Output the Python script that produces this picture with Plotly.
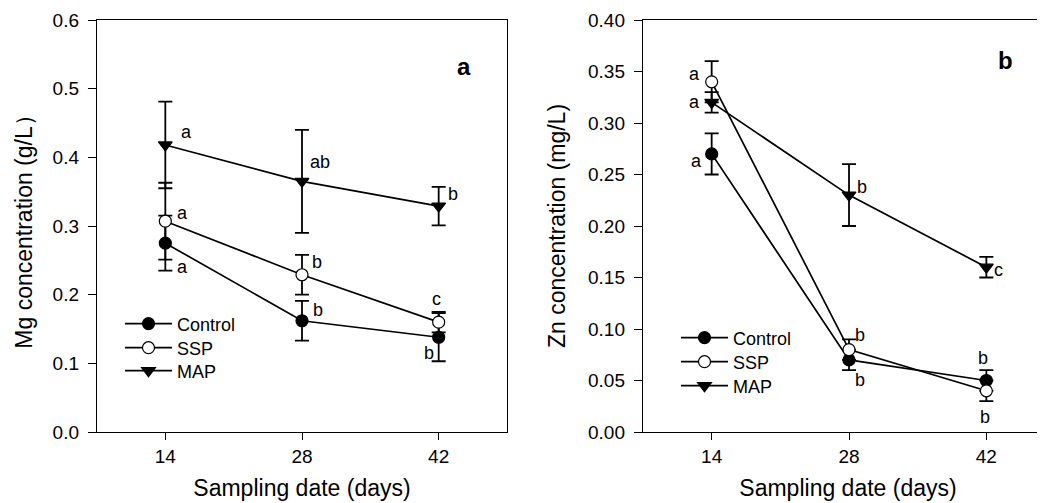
import plotly.graph_objects as go

days = [14, 28, 42]

# Panel a: Mg concentration (g/L)
mg_control = [0.275, 0.162, 0.138]
mg_control_err = [0.040, 0.029, 0.035]
mg_ssp = [0.307, 0.229, 0.160]
mg_ssp_err = [0.056, 0.029, 0.015]
mg_map = [0.418, 0.365, 0.329]
mg_map_err = [0.063, 0.075, 0.028]

# Panel b: Zn concentration (mg/L)
zn_control = [0.27, 0.07, 0.05]
zn_control_err = [0.02, 0.01, 0.01]
zn_ssp = [0.34, 0.08, 0.04]
zn_ssp_err = [0.02, 0.01, 0.01]
zn_map = [0.32, 0.23, 0.16]
zn_map_err = [0.01, 0.03, 0.01]

series_names = ["Control", "SSP", "MAP"]

# significance letters
mg_letters_x = [16.2, 15.74, 15.74, 29.8, 29.5, 29.6, 43.45, 41.8, 41.0]
mg_letters_y = [0.437, 0.3185, 0.2407, 0.3927, 0.248, 0.1777, 0.3466, 0.194, 0.1153]
mg_letters = ["a", "a", "a", "ab", "b", "b", "b", "c", "b"]

zn_letters_x = [12.27, 12.27, 12.47, 29.29, 29.12, 29.12, 43.19, 41.69, 41.86]
zn_letters_y = [0.3474, 0.320, 0.2633, 0.2382, 0.0942, 0.0505, 0.157, 0.0715, 0.0149]
zn_letters = ["a", "a", "a", "b", "b", "b", "c", "b", "b"]

FONT = "Arial, Liberation Sans, Arimo, sans-serif"
BLACK = "#000000"

styles = {
    "Control": dict(symbol="circle", color=BLACK, line=dict(color=BLACK, width=1.2), size=12),
    "SSP": dict(symbol="circle", color="white", line=dict(color=BLACK, width=1.2), size=12),
    "MAP": dict(symbol="triangle-down", color=BLACK, line=dict(color=BLACK, width=1.2), size=12),
}

W, H = 1045, 503
OFF = 8   # page body offset compensation (vertical / panel b)
OFFA = 6  # horizontal compensation for panel a

fig = go.Figure()

legend_ids_a = ["legend", "legend2", "legend3"]
legend_ids_b = ["legend4", "legend5", "legend6"]
legend_rows_a = [324, 348, 371]
legend_rows_b = [338, 362, 386]

def add_panel(vals, errs, xa, ya, legends):
    for name, v, e, lg in zip(series_names, vals, errs, legends):
        fig.add_trace(go.Scatter(
            x=days, y=v, name=name, mode="lines+markers",
            line=dict(color=BLACK, width=1.7),
            marker=styles[name],
            error_y=dict(type="data", array=e, visible=True, color=BLACK,
                         thickness=1.8, width=7),
            xaxis=xa, yaxis=ya, legend=lg,
        ))

add_panel([mg_control, mg_ssp, mg_map], [mg_control_err, mg_ssp_err, mg_map_err],
          "x", "y", legend_ids_a)
add_panel([zn_control, zn_ssp, zn_map], [zn_control_err, zn_ssp_err, zn_map_err],
          "x2", "y2", legend_ids_b)

annotations = []
for x, y, t in zip(mg_letters_x, mg_letters_y, mg_letters):
    annotations.append(dict(x=x, y=y, xref="x", yref="y", text=t, showarrow=False,
                            font=dict(size=18, color=BLACK, family=FONT)))
for x, y, t in zip(zn_letters_x, zn_letters_y, zn_letters):
    annotations.append(dict(x=x, y=y, xref="x2", yref="y2", text=t, showarrow=False,
                            font=dict(size=18, color=BLACK, family=FONT)))
annotations.append(dict(x=44.6, y=0.532, xref="x", yref="y", text="<b>a</b>", showarrow=False,
                        font=dict(size=24, color=BLACK, family=FONT)))
annotations.append(dict(x=43.98, y=0.3604, xref="x2", yref="y2", text="<b>b</b>", showarrow=False,
                        font=dict(size=24, color=BLACK, family=FONT)))

ydom = [(H - (432 - OFF)) / H, (H - (20 - OFF)) / H]

xcommon = dict(tickmode="array", tickvals=days, ticktext=[str(d) for d in days],
               ticks="outside", ticklen=7, tickwidth=1.2, tickcolor=BLACK,
               showline=True, linecolor=BLACK, linewidth=1.4, showgrid=False,
               zeroline=False, tickfont=dict(size=19, color=BLACK, family=FONT),
               title=dict(text="Sampling date (days)", font=dict(size=23, color=BLACK, family=FONT),
                          standoff=13))
ycommon = dict(ticks="outside", ticklen=8, tickwidth=1.2, tickcolor=BLACK,
               showline=True, linecolor=BLACK, linewidth=1.4, showgrid=False,
               zeroline=False, ticklabelstandoff=5,
               tickfont=dict(size=19, color=BLACK, family=FONT))

legend_layout = {}
for lid, row in zip(legend_ids_a, legend_rows_a):
    legend_layout[lid] = dict(x=(118 - OFFA) / W, y=(H - (row - OFF)) / H,
                              xanchor="left", yanchor="middle",
                              bgcolor="rgba(0,0,0,0)", borderwidth=0, itemwidth=47,
                              font=dict(size=18, color=BLACK, family=FONT))
for lid, row in zip(legend_ids_b, legend_rows_b):
    legend_layout[lid] = dict(x=(676 - OFF) / W, y=(H - (row - OFF)) / H,
                              xanchor="left", yanchor="middle",
                              bgcolor="rgba(0,0,0,0)", borderwidth=0, itemwidth=47,
                              font=dict(size=18, color=BLACK, family=FONT))

fig.update_layout(
    width=W, height=H,
    margin=dict(l=0, r=0, t=0, b=0, autoexpand=False),
    paper_bgcolor="white", plot_bgcolor="white",
    font=dict(family=FONT, color=BLACK),
    xaxis=dict(xcommon, domain=[(95 - OFFA) / W, (505 - OFFA) / W], range=[7, 49],
               mirror=True, anchor="y"),
    yaxis=dict(ycommon, domain=ydom, range=[0, 0.6], dtick=0.1, tickformat=".1f",
               mirror=True, anchor="x",
               title=dict(text="Mg concentration (g/L）", font=dict(size=23, color=BLACK, family=FONT),
                          standoff=13)),
    xaxis2=dict(xcommon, domain=[(643 - OFF) / W, 1.0], range=[7, 7 + (W + OFF - 643) / 9.81],
                mirror=True, anchor="y2"),
    yaxis2=dict(ycommon, domain=ydom, range=[0, 0.40], dtick=0.05, tickformat=".2f",
                mirror=False, anchor="x2",
                title=dict(text="Zn concentration (mg/L)", font=dict(size=23, color=BLACK, family=FONT),
                           standoff=15)),
    annotations=annotations,
    showlegend=True,
    **legend_layout,
)

fig.write_html("out.html")
